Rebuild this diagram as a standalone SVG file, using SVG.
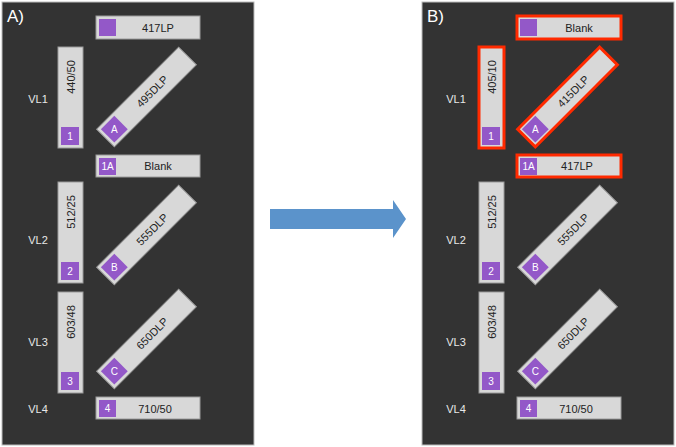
<svg xmlns="http://www.w3.org/2000/svg" width="676" height="447" viewBox="0 0 676 447">
<style>
.panel{fill:#333333;stroke:#bbbbbb;stroke-width:1}
.box{fill:#d8d8d8;stroke:#9a9a9a;stroke-width:1}
.red{fill:#d8d8d8;stroke:#ff2a00;stroke-width:3}
.sq{fill:#9358c8}
.t{font-family:"Liberation Sans",Arial,sans-serif;font-size:11px;fill:#222;text-anchor:middle;dominant-baseline:central}
.w{font-family:"Liberation Sans",Arial,sans-serif;font-size:10px;fill:#fff;text-anchor:middle;dominant-baseline:central}
.lab{font-family:"Liberation Sans",Arial,sans-serif;font-size:11px;fill:#e8e8e8;text-anchor:middle;dominant-baseline:central}
.big{font-family:"Liberation Sans",Arial,sans-serif;font-size:17px;fill:#fff}
</style>
<rect width="676" height="447" fill="#fff"/>
<g id="panelA">
<rect class="panel" x="2" y="2" width="252" height="443"/>
<text class="big" x="7" y="22">A)</text>
<text class="lab" x="38" y="99">VL1</text>
<text class="lab" x="38" y="240">VL2</text>
<text class="lab" x="38" y="342">VL3</text>
<text class="lab" x="38" y="409">VL4</text>
<g id="a-417LP"><rect class="box" x="96" y="16" width="104" height="23"/><rect class="sq" x="99" y="19" width="17" height="17"/><text class="t" x="158" y="28">417LP</text></g>
<g id="a-44050"><rect class="box" x="58" y="47" width="25" height="101"/><rect class="sq" x="61" y="127" width="18" height="18"/><text class="w" x="70" y="136">1</text><text class="t" transform="translate(70.5,77) rotate(-90)">440/50</text></g>
<g id="a-495DLP" transform="translate(146.5,97) rotate(-45)"><rect class="box" x="-58" y="-12.5" width="116" height="25"/><rect class="sq" x="-55" y="-9.5" width="19" height="19"/><text class="w" x="-45.5" y="0" transform="rotate(45 -45.5 0)">A</text><text class="t" x="8" y="0">495DLP</text></g>
<g id="a-blank"><rect class="box" x="96" y="155" width="104" height="22"/><rect class="sq" x="99" y="158" width="17" height="17"/><text class="w" x="107.5" y="166.5">1A</text><text class="t" x="158" y="166">Blank</text></g>
<g id="a-51225"><rect class="box" x="58" y="182" width="25" height="101"/><rect class="sq" x="61" y="262" width="18" height="18"/><text class="w" x="70" y="271">2</text><text class="t" transform="translate(70.5,212) rotate(-90)">512/25</text></g>
<g id="a-555DLP" transform="translate(146.5,235) rotate(-45)"><rect class="box" x="-58" y="-12.5" width="116" height="25"/><rect class="sq" x="-55" y="-9.5" width="19" height="19"/><text class="w" x="-45.5" y="0" transform="rotate(45 -45.5 0)">B</text><text class="t" x="8" y="0">555DLP</text></g>
<g id="a-60348"><rect class="box" x="58" y="292" width="25" height="101"/><rect class="sq" x="61" y="372" width="18" height="18"/><text class="w" x="70" y="381">3</text><text class="t" transform="translate(70.5,322) rotate(-90)">603/48</text></g>
<g id="a-650DLP" transform="translate(146.5,339) rotate(-45)"><rect class="box" x="-58" y="-12.5" width="116" height="25"/><rect class="sq" x="-55" y="-9.5" width="19" height="19"/><text class="w" x="-45.5" y="0" transform="rotate(45 -45.5 0)">C</text><text class="t" x="8" y="0">650DLP</text></g>
<g id="a-71050"><rect class="box" x="96" y="397" width="104" height="22"/><rect class="sq" x="99" y="400" width="17" height="17"/><text class="w" x="107.5" y="408.5">4</text><text class="t" x="155" y="409">710/50</text></g>
</g>
<g id="connectors"><path d="M270 209 H393 V200 L406 219 L393 238 V229 H270 Z" fill="#5b93cb"/></g>
<g id="panelB">
<rect class="panel" x="422" y="2" width="252" height="443"/>
<text class="big" x="427" y="22">B)</text>
<text class="lab" x="456" y="99">VL1</text>
<text class="lab" x="456" y="240">VL2</text>
<text class="lab" x="456" y="342">VL3</text>
<text class="lab" x="456" y="409">VL4</text>
<g id="b-blank"><rect class="red" x="517" y="16" width="104" height="23"/><rect class="sq" x="520" y="19" width="17" height="17"/><text class="t" x="579" y="28">Blank</text></g>
<g id="b-40510"><rect class="red" x="479" y="47" width="25" height="101"/><rect class="sq" x="482" y="127" width="18" height="18"/><text class="w" x="491" y="136">1</text><text class="t" transform="translate(491.5,77) rotate(-90)">405/10</text></g>
<g id="b-415DLP" transform="translate(567.5,97) rotate(-45)"><rect class="red" x="-58" y="-12.5" width="116" height="25"/><rect class="sq" x="-55" y="-9.5" width="19" height="19"/><text class="w" x="-45.5" y="0" transform="rotate(45 -45.5 0)">A</text><text class="t" x="8" y="0">415DLP</text></g>
<g id="b-417LP"><rect class="red" x="517" y="155" width="104" height="22"/><rect class="sq" x="520" y="158" width="17" height="17"/><text class="w" x="528.5" y="166.5">1A</text><text class="t" x="577" y="166">417LP</text></g>
<g id="b-51225"><rect class="box" x="479" y="182" width="25" height="101"/><rect class="sq" x="482" y="262" width="18" height="18"/><text class="w" x="491" y="271">2</text><text class="t" transform="translate(491.5,212) rotate(-90)">512/25</text></g>
<g id="b-555DLP" transform="translate(567.5,235) rotate(-45)"><rect class="box" x="-58" y="-12.5" width="116" height="25"/><rect class="sq" x="-55" y="-9.5" width="19" height="19"/><text class="w" x="-45.5" y="0" transform="rotate(45 -45.5 0)">B</text><text class="t" x="8" y="0">555DLP</text></g>
<g id="b-60348"><rect class="box" x="479" y="292" width="25" height="101"/><rect class="sq" x="482" y="372" width="18" height="18"/><text class="w" x="491" y="381">3</text><text class="t" transform="translate(491.5,322) rotate(-90)">603/48</text></g>
<g id="b-650DLP" transform="translate(567.5,339) rotate(-45)"><rect class="box" x="-58" y="-12.5" width="116" height="25"/><rect class="sq" x="-55" y="-9.5" width="19" height="19"/><text class="w" x="-45.5" y="0" transform="rotate(45 -45.5 0)">C</text><text class="t" x="8" y="0">650DLP</text></g>
<g id="b-71050"><rect class="box" x="517" y="397" width="104" height="22"/><rect class="sq" x="520" y="400" width="17" height="17"/><text class="w" x="528.5" y="408.5">4</text><text class="t" x="576" y="409">710/50</text></g>
</g>
</svg>
